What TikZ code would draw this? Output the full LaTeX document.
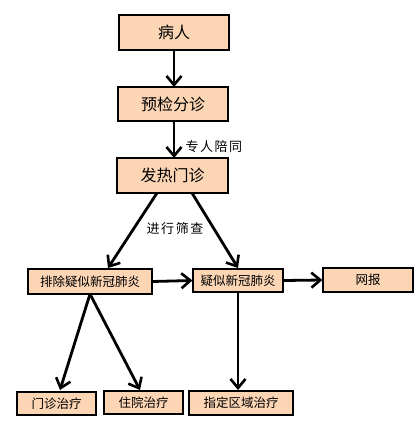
\documentclass[tikz,border=0pt]{standalone}
\usepackage{fontspec}
\newfontfamily\cjk{Noto Sans CJK SC}
\newfontfamily\cjkl[LetterSpace=12]{Noto Sans CJK SC}
\usetikzlibrary{arrows.meta}
\definecolor{peach}{HTML}{FCD5B5}
\begin{document}
\begin{tikzpicture}[x=1pt,y=-1pt,
  box/.style={draw=black,fill=peach,line width=1.2pt,inner sep=0pt},
  big/.style={font=\cjk\fontsize{16}{16}\selectfont},
  small/.style={font=\cjk\fontsize{12.5}{12.5}\selectfont},
  arr/.style={line width=2.8pt,-{Straight Barb[length=9pt,width=15pt,line width=2.6pt]}},
  lbl/.style={font=\cjkl\fontsize{13}{13}\selectfont}
]
\useasboundingbox (0,0) rectangle (419,430);
% top column
\node[box,big,minimum width=110pt,minimum height=35pt] (a) at (174,32.5) {病人};
\node[box,big,minimum width=110pt,minimum height=34pt] (b) at (173,104) {预检分诊};
\node[box,big,minimum width=111pt,minimum height=35pt] (c) at (172.5,175.5) {发热门诊};
% second row
\node[box,small,minimum width=124pt,minimum height=25pt] (d) at (90,281.5) {排除疑似新冠肺炎};
\node[box,small,minimum width=90pt,minimum height=23pt] (e) at (238,280.5) {疑似新冠肺炎};
\node[box,small,minimum width=90pt,minimum height=24pt] (f) at (368,280) {网报};
% third row
\node[box,small,minimum width=79pt,minimum height=23pt] (g) at (56.5,403.5) {门诊治疗};
\node[box,small,minimum width=79pt,minimum height=23pt] (h) at (143.5,402.5) {住院治疗};
\node[box,small,minimum width=104pt,minimum height=24pt] (i) at (241,403) {指定区域治疗};
% labels
\node[lbl,anchor=west] (l1) at (182,147) {专人陪同};
\node[lbl] (l2) at (175,229) {进行筛查};
% coordinates
\coordinate (c1) at (157,193);
\coordinate (c2) at (192,193);
\coordinate (d0) at (90,294);
% arrows
\draw[arr] (a.south -| 174,0) -- (174,87);
\draw[arr] (174,121) -- (174,158);
\draw[arr] (c1) -- (108,268);
\draw[arr] (c2) -- (238,268);
\draw[arr] (d.east) -- (e.west);
\draw[arr] (e.east) -- (f.west);
\draw[arr] (d0) -- (60,390);
\draw[arr] (d0) -- (140,390);
\draw[arr] (e.south) -- (238,390);
\end{tikzpicture}
\end{document}
